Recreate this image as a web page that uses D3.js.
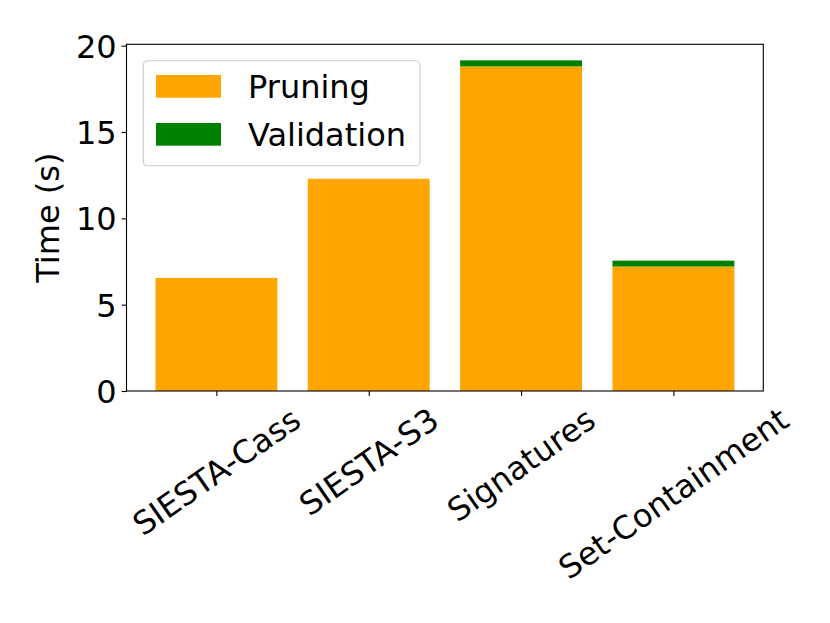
<!DOCTYPE html>
<html>
<head>
<meta charset="utf-8">
<script src="https://cdn.jsdelivr.net/npm/d3@7"></script>
<style>
  body { margin: 0; background: #fff; }
  text { font-family: "DejaVu Sans", sans-serif; fill: #000; }
</style>
</head>
<body>
<div id="chart"></div>
<script>
// data
var categories = ["SIESTA-Cass", "SIESTA-S3", "Signatures", "Set-Containment"];
var pruning    = [6.55, 12.29, 18.80, 7.21];
var validation = [0, 0, 0.35, 0.34];
var yTicks     = [0, 5, 10, 15, 20];
var seriesNames  = ["Pruning", "Validation"];
var seriesColors = ["#ffa500", "#008000"];

var W = 830, H = 623;
var margin = {top: 44.3, right: 66.7, bottom: 232, left: 126.5},
    width = W - margin.left - margin.right,
    height = H - margin.top - margin.bottom;
var fs = 32, tickLen = 4.9, pad = 4.9;

var svg = d3.select("#chart")
  .append("svg")
    .attr("width", W)
    .attr("height", H)
  .append("g")
    .attr("transform", "translate(" + margin.left + "," + margin.top + ")");

var x = d3.scaleLinear()
  .domain([-0.59, categories.length - 1 + 0.59])
  .range([0, width]);

var y = d3.scaleLinear()
  .domain([0, 20.08])
  .range([height, 0]);

var barW = x(0.8) - x(0);

// stacked bars
var rows = categories.map(function(c, i) {
  return {cat: c, i: i, p: pruning[i], v: validation[i]};
});

svg.append("g").selectAll("rect.prun")
  .data(rows)
  .enter().append("rect")
    .attr("x", function(d) { return x(d.i) - barW / 2; })
    .attr("width", barW)
    .attr("y", function(d) { return y(d.p); })
    .attr("height", function(d) { return y(0) - y(d.p); })
    .style("fill", seriesColors[0]);

svg.append("g").selectAll("rect.val")
  .data(rows.filter(function(d) { return d.v > 0; }))
  .enter().append("rect")
    .attr("x", function(d) { return x(d.i) - barW / 2; })
    .attr("width", barW)
    .attr("y", function(d) { return y(d.p + d.v); })
    .attr("height", function(d) { return y(d.p) - y(d.p + d.v); })
    .style("fill", seriesColors[1]);

// Y axis
var yAxis = svg.append("g")
  .call(d3.axisLeft(y).tickValues(yTicks).tickSize(tickLen).tickPadding(pad));
yAxis.select(".domain").remove();
yAxis.selectAll("line").attr("stroke", "#000").attr("stroke-width", 1.1);
yAxis.selectAll("text").style("font-size", fs + "px").attr("dy", "0.36em");

// X axis
var xAxis = svg.append("g")
  .attr("transform", "translate(0," + height + ")")
  .call(d3.axisBottom(x).tickValues(d3.range(categories.length))
    .tickFormat(function(i) { return categories[i]; })
    .tickSize(tickLen).tickPadding(pad));
xAxis.select(".domain").remove();
xAxis.selectAll("line").attr("stroke", "#000").attr("stroke-width", 1.1);

var ang = 35 * Math.PI / 180;
xAxis.selectAll("text")
  .style("font-size", fs + "px")
  .attr("text-anchor", "middle")
  .attr("y", null)
  .attr("dy", "0.33em")
  .each(function() {
    var t = d3.select(this);
    var w = this.getComputedTextLength();
    var h = fs * 1.17;
    var halfH = (w * Math.sin(ang) + h * Math.cos(ang)) / 2;
    t.attr("transform", "translate(0," + (tickLen + pad + halfH) + ") rotate(-35)");
  });

// frame
svg.append("rect")
  .attr("width", width)
  .attr("height", height)
  .attr("fill", "none")
  .attr("stroke", "#000")
  .attr("stroke-width", 1.1);

// Y label
svg.append("text")
  .attr("transform", "rotate(-90)")
  .attr("x", -height / 2)
  .attr("y", 48 - margin.left)
  .attr("dy", "0.35em")
  .attr("text-anchor", "middle")
  .style("font-size", fs + "px")
  .text("Time (s)");

// legend
var lg = svg.append("g")
  .attr("transform", "translate(" + (143.3 - margin.left) + "," + (60.7 - margin.top) + ")");
lg.append("rect")
  .attr("width", 276.7)
  .attr("height", 105)
  .attr("rx", 4)
  .attr("fill", "#fff")
  .attr("fill-opacity", 0.8)
  .attr("stroke", "#cccccc")
  .attr("stroke-width", 1.1);
seriesNames.forEach(function(name, i) {
  lg.append("rect")
    .attr("x", 12.7)
    .attr("y", 14.3 + i * 48)
    .attr("width", 65)
    .attr("height", 22.7)
    .style("fill", seriesColors[i]);
  lg.append("text")
    .attr("x", 104.7)
    .attr("y", 25.6 + i * 48)
    .attr("dy", "0.36em")
    .style("font-size", fs + "px")
    .text(name);
});
</script>
</body>
</html>
